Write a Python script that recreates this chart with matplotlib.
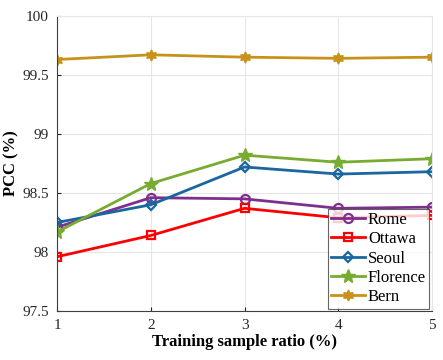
import numpy as np
import matplotlib
matplotlib.use("Agg")
import matplotlib.pyplot as plt

plt.rcParams["font.family"] = ["Liberation Serif", "DejaVu Serif"]

# training sample ratio (%)
ratio = [1, 2, 3, 4, 5]
rome = [98.21, 98.46, 98.45, 98.37, 98.38]
ottawa = [97.96, 98.14, 98.37, 98.29, 98.31]
seoul = [98.25, 98.40, 98.72, 98.66, 98.68]
florence = [98.17, 98.58, 98.82, 98.76, 98.79]
bern = [99.63, 99.67, 99.65, 99.64, 99.65]

fig = plt.figure(figsize=(4.43, 3.6), dpi=100)
ax = fig.add_axes([0.129, 0.136, 0.846, 0.820])

ax.plot(ratio, rome, "o-", color="#7E2F8E", lw=2, ms=6.5, mfc="none", mew=1.6, label="Rome")
ax.plot(ratio, ottawa, "s-", color="#FF0000", lw=2, ms=5.5, mfc="none", mew=1.6, label="Ottawa")
ax.plot(ratio, seoul, "D-", color="#1A66A0", lw=2, ms=5.5, mfc="none", mew=1.6, label="Seoul")
ax.plot(ratio, florence, "*-", color="#77AC30", lw=2, ms=10, label="Florence")
ax.plot(ratio, bern, marker=(6, 1, 0), ls="-", color="#C8921A", lw=2, ms=8, label="Bern")

ax.set_xlim(1, 5)
ax.set_ylim(97.5, 100)
ax.set_xticks(ratio)
ax.set_yticks([97.5, 98, 98.5, 99, 99.5, 100])
ax.set_yticklabels(["97.5", "98", "98.5", "99", "99.5", "100"])
ax.tick_params(direction="in", labelsize=11, length=3, colors="#262626", pad=6)
ax.grid(color="#E6E6E6", lw=0.8)
for s in ["top", "right"]:
    ax.spines[s].set_color("#E6E6E6")
for s in ["left", "bottom"]:
    ax.spines[s].set_color("#404040")

ax.set_xlabel("Training sample ratio (%)", fontsize=12, fontweight="bold", labelpad=1)
ax.set_ylabel("PCC (%)", fontsize=12, fontweight="bold", labelpad=2)

leg = ax.legend(loc="lower right", fontsize=12, fancybox=False, edgecolor="#404040",
                borderpad=0.2, labelspacing=0.2, handlelength=2.0, handletextpad=0.2,
                borderaxespad=0.15)
leg.get_frame().set_linewidth(0.8)

fig.savefig("out.png", dpi=100)
